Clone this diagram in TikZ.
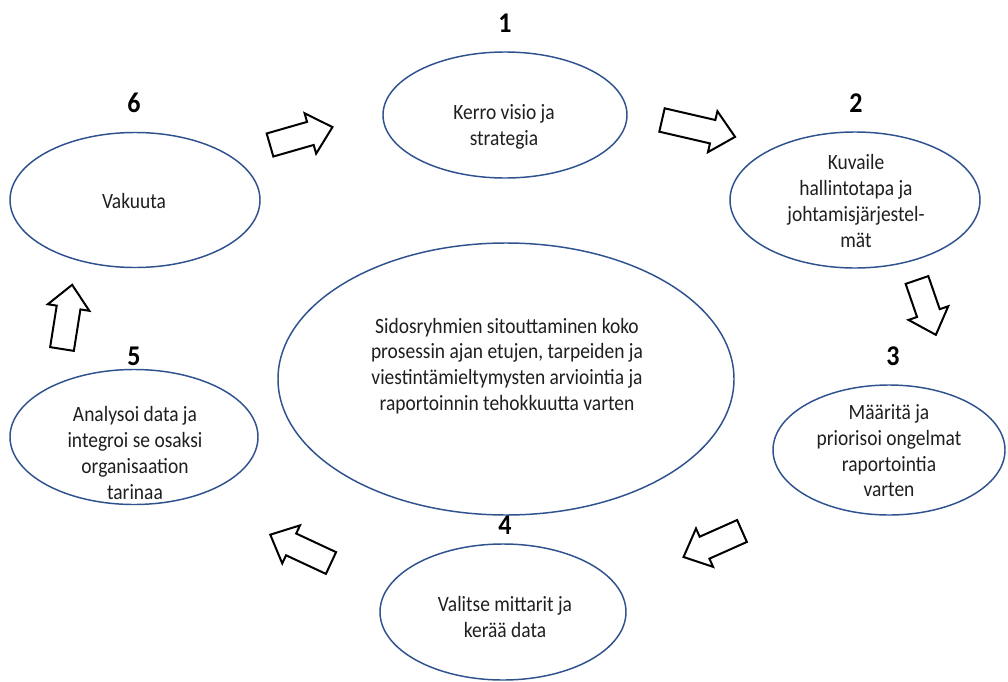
\documentclass[tikz,border=0pt]{standalone}
\usepackage{fontspec}
\setmainfont{Carlito}
\usetikzlibrary{shapes.geometric}
\definecolor{eblue}{HTML}{2F528F}
\definecolor{txt}{HTML}{1F1F1F}
\tikzset{
  ell/.style={ellipse, draw=eblue, line width=1.1pt, fill=white, inner sep=0pt},
  lbl/.style={align=center, font=\fontsize{14.6}{17.2}\selectfont, text=txt, yscale=1.12, transform shape},
  num/.style={font=\fontsize{19.5}{20}\selectfont\bfseries, text=black, yscale=1.1, transform shape},
  pics/barrow/.style={code={
    \draw[line width=1.5pt, fill=white, line join=miter]
      (0,-12) -- ({#1-23},-12) -- ({#1-23},-21) -- (#1,0) -- ({#1-23},21) -- ({#1-23},12) -- (0,12) -- cycle;}}
}
\newcommand\lab[4][lbl]{\begin{scope}[shift={#2}]\node[#1] (#3) {#4};\end{scope}}
\begin{document}
\begin{tikzpicture}[x=0.75pt,y=-0.75pt]
\useasboundingbox (0,0) rectangle (1008,682);
\fill[white] (0,0) rectangle (1008,682);

% ellipses
\node[ell, minimum width=244*0.75pt, minimum height=126*0.75pt] (e1) at (505,115) {};
\node[ell, minimum width=250*0.75pt, minimum height=136*0.75pt] (e2) at (855,200) {};
\node[ell, minimum width=232*0.75pt, minimum height=130*0.75pt] (e3) at (889,450) {};
\node[ell, minimum width=246*0.75pt, minimum height=136*0.75pt] (e4) at (503,612) {};
\node[ell, minimum width=248*0.75pt, minimum height=135*0.75pt] (e5) at (134,437) {};
\node[ell, minimum width=250*0.75pt, minimum height=135*0.75pt] (e6) at (135,200) {};
\node[ell, minimum width=456*0.75pt, minimum height=272*0.75pt] (ec) at (506,379) {};

% labels
\lab{(504,127)}{t1}{Kerro visio ja\\strategia}
\lab{(856,201)}{t2}{Kuvaile\\hallintotapa ja\\johtamisjärjestel-\\mät}
\lab{(889,451)}{t3}{Määritä ja\\priorisoi ongelmat\\raportointia\\varten}
\lab{(505,617)}{t4}{Valitse mittarit ja\\kerää data}
\lab{(135,453)}{t5}{Analysoi data ja\\integroi se osaksi\\organisaation\\tarinaa}
\lab{(134,201)}{t6}{Vakuuta}
\lab{(507,366)}{tc}{Sidosryhmien sitouttaminen koko\\prosessin ajan etujen, tarpeiden ja\\viestintämieltymysten arviointia ja\\raportoinnin tehokkuutta varten}

% numbers
\lab[num]{(505,23)}{n1}{1}
\lab[num]{(856,103)}{n2}{2}
\lab[num]{(893,356)}{n3}{3}
\lab[num]{(505,525)}{n4}{4}
\lab[num]{(134,356)}{n5}{5}
\lab[num]{(134,103)}{n6}{6}

% block arrows
\pic[rotate=16] at (270,145) {barrow=65};
\pic[rotate=-13] at (662,120) {barrow=75};
\pic[rotate=-71] at (917,280) {barrow=58};
\pic[rotate=204] at (742,531) {barrow=64};
\pic[rotate=155] at (331,563) {barrow=67};
\pic[rotate=81] at (62,349) {barrow=65};
\end{tikzpicture}
\end{document}
